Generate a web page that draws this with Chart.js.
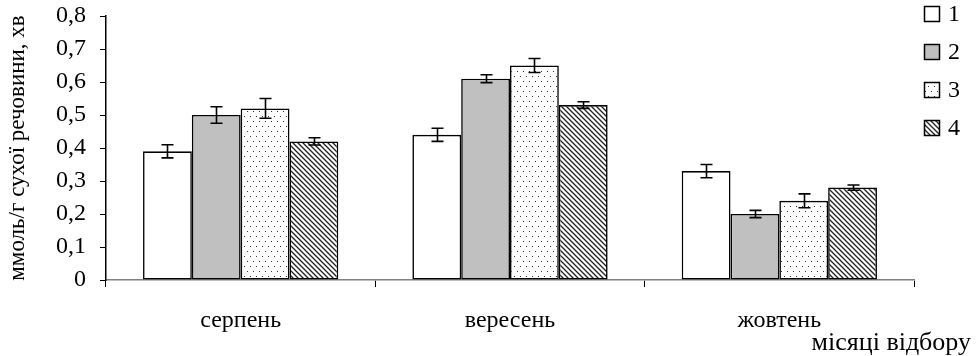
<!DOCTYPE html>
<html>
<head>
<meta charset="utf-8">
<script src="https://cdn.jsdelivr.net/npm/chart.js@4/dist/chart.umd.min.js"></script>
<style>
html,body{margin:0;padding:0;background:#fff;}
#wrap{width:976px;height:356px;position:relative;}
</style>
</head>
<body>
<div id="wrap"><canvas id="c" width="976" height="356"></canvas></div>
<script>
const categories = ['серпень', 'вересень', 'жовтень'];
const seriesNames = ['1', '2', '3', '4'];
const series1 = [0.39, 0.44, 0.33];
const series2 = [0.50, 0.61, 0.20];
const series3 = [0.52, 0.65, 0.24];
const series4 = [0.42, 0.53, 0.28];
const err1 = [0.02, 0.02, 0.02];
const err2 = [0.025, 0.012, 0.011];
const err3 = [0.03, 0.021, 0.021];
const err4 = [0.011, 0.01, 0.008];
const yTitle = 'ммоль/г сухої речовини, хв';
const xTitle = 'місяці відбору';
const FONT = '"Liberation Serif", "Times New Roman", serif';

function makePattern(kind) {
  const c = document.createElement('canvas');
  const ctx = c.getContext('2d');
  if (kind === 'dots') {
    c.width = 6; c.height = 10;
    ctx.fillStyle = '#fff'; ctx.fillRect(0, 0, 6, 10);
    ctx.fillStyle = '#333';
    ctx.fillRect(1, 1, 1, 1);
    ctx.fillRect(4, 6, 1, 1);
  } else if (kind === 'stripes') {
    c.width = 5; c.height = 5;
    ctx.fillStyle = '#fff'; ctx.fillRect(0, 0, 5, 5);
    ctx.strokeStyle = '#222'; ctx.lineWidth = 1.3;
    ctx.beginPath();
    ctx.moveTo(-1, -1); ctx.lineTo(6, 6);
    ctx.moveTo(-1, 4); ctx.lineTo(1, 6);
    ctx.moveTo(4, -1); ctx.lineTo(6, 1);
    ctx.stroke();
  }
  return document.getElementById('c').getContext('2d').createPattern(c, 'repeat');
}

const fills = ['#ffffff', '#c0c0c0', makePattern('dots'), makePattern('stripes')];
const values = [series1, series2, series3, series4];
const errors = [err1, err2, err3, err4];

const errorBarPlugin = {
  id: 'errorBars',
  afterDatasetsDraw(chart) {
    const ctx = chart.ctx;
    const y = chart.scales.y;
    ctx.save();
    ctx.strokeStyle = '#000';
    ctx.lineWidth = 1.6;
    chart.data.datasets.forEach((ds, di) => {
      const meta = chart.getDatasetMeta(di);
      meta.data.forEach((bar, i) => {
        const v = ds.data[i], e = errors[di][i];
        const x = Math.round(bar.x) + 0.5;
        const y1 = y.getPixelForValue(v + e), y2 = y.getPixelForValue(v - e);
        ctx.beginPath();
        ctx.moveTo(x, y1); ctx.lineTo(x, y2);
        ctx.moveTo(x - 6, y1); ctx.lineTo(x + 6, y1);
        ctx.moveTo(x - 6, y2); ctx.lineTo(x + 6, y2);
        ctx.stroke();
      });
    });
    ctx.restore();
  }
};

const extrasPlugin = {
  id: 'extras',
  afterDraw(chart) {
    const ctx = chart.ctx;
    ctx.save();
    // legend
    const centers = [14, 52, 90, 128];
    ctx.font = '24px ' + FONT;
    ctx.textBaseline = 'middle';
    ctx.textAlign = 'left';
    seriesNames.forEach((n, i) => {
      const bx = 924, by = centers[i] - 8;
      ctx.fillStyle = fills[i];
      ctx.fillRect(bx, by, 16, 16);
      ctx.strokeStyle = '#000'; ctx.lineWidth = 1.5;
      ctx.strokeRect(bx + 0.5, by + 0.5, 15, 15);
      ctx.fillStyle = '#000';
      ctx.fillText(n, 948, centers[i] + 1);
    });
    // x title
    ctx.font = '26px ' + FONT;
    ctx.textAlign = 'right';
    ctx.fillText(xTitle, 971, 343);
    ctx.restore();
  }
};

const datasets = values.map((arr, i) => ({
  label: seriesNames[i],
  data: arr,
  backgroundColor: fills[i],
  borderColor: '#000',
  borderWidth: 1.6,
  borderSkipped: false,
  categoryPercentage: 0.725,
  barPercentage: 1.0
}));

new Chart(document.getElementById('c'), {
  type: 'bar',
  data: { labels: categories, datasets },
  plugins: [errorBarPlugin, extrasPlugin],
  options: {
    responsive: false,
    animation: false,
    devicePixelRatio: 1,
    layout: { padding: { left: 0, right: 62, top: 16, bottom: 0 } },
    plugins: { legend: { display: false }, tooltip: { enabled: false } },
    scales: {
      x: {
        offset: true,
        grid: { offset: true, drawOnChartArea: false, drawTicks: true, tickLength: 7, color: '#000', lineWidth: 1 },
        border: { display: true, color: '#808080', width: 1.5 },
        ticks: { color: '#000', font: { family: FONT, size: 24 }, padding: 19, autoSkip: false, maxRotation: 0 },
        afterFit(s) { s.height = 76; s.paddingLeft = 0; s.paddingRight = 0; }
      },
      y: {
        min: 0, max: 0.8,
        grid: { drawOnChartArea: false, drawTicks: true, tickLength: 6, color: '#000', lineWidth: 1 },
        border: { display: true, color: '#000', width: 1.5 },
        ticks: {
          stepSize: 0.1, color: '#000', padding: 14, autoSkip: false,
          font: { family: FONT, size: 24 },
          callback: v => (Math.round(v * 10) / 10).toString().replace('.', ',')
        },
        title: { display: true, text: yTitle, color: '#000', font: { family: FONT, size: 23 }, padding: { top: 4, bottom: 0 } },
        afterFit(s) { s.width = 106; s.paddingTop = 0; s.paddingBottom = 0; }
      }
    }
  }
});
</script>
</body>
</html>
